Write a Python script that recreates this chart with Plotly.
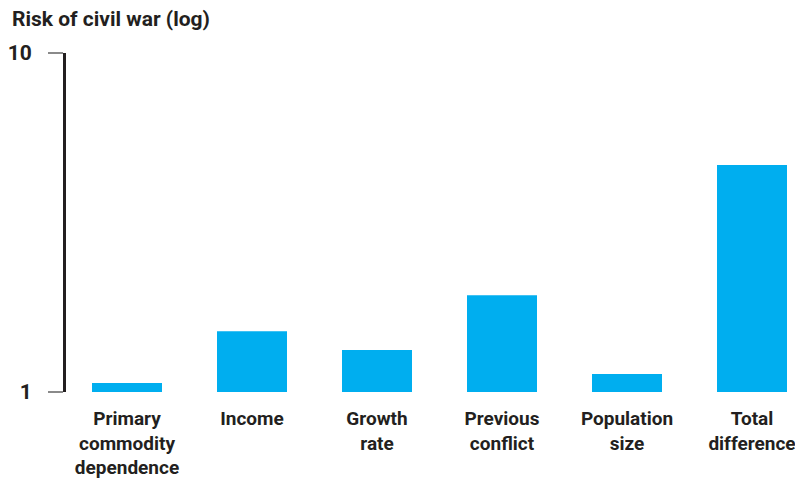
import plotly.graph_objects as go

categories = ["Primary<br>commodity<br>dependence", "Income", "Growth<br>rate",
              "Previous<br>conflict", "Population<br>size", "Total<br>difference"]
values = [1.063, 1.51, 1.33, 1.93, 1.13, 4.67]
y_tickvals = [1, 10]
y_ticktext = ["1", "10"]

FONT = "Roboto, Lato, sans-serif"
DARK = "#231f20"

fig = go.Figure(go.Bar(
    x=list(range(len(categories))), y=values,
    marker=dict(color="#00aeef", line=dict(width=0)),
))

# page body has an 8px margin, so the figure is drawn 8px smaller and margins offset
fig.update_layout(
    width=795, height=473,
    margin=dict(l=58, r=0, t=45, b=89),
    paper_bgcolor="white", plot_bgcolor="white",
    bargap=0.44,
    showlegend=False,
    font=dict(family=FONT, color=DARK, size=20, weight="bold"),
    annotations=[dict(
        text="Risk of civil war (log)", xref="paper", yref="paper",
        x=-56/737, y=1, xanchor="left", yanchor="bottom", yshift=20,
        showarrow=False, font=dict(size=21, family=FONT, color=DARK, weight="bold"),
    )],
)

fig.update_xaxes(
    range=[-0.488, 5.408],
    tickvals=list(range(len(categories))),
    ticktext=categories,
    showline=False, showgrid=False, zeroline=False, ticks="",
    tickfont=dict(size=19, family=FONT, color=DARK, weight="bold"),
    ticklabelstandoff=13,
    automargin=False,
)
fig.update_yaxes(
    type="log", range=[0, 1],
    tickvals=y_tickvals, ticktext=y_ticktext,
    showline=True, linecolor=DARK, linewidth=3,
    ticks="outside", ticklen=15, tickwidth=2, tickcolor="#8a8a8a",
    showgrid=False, zeroline=False,
    tickfont=dict(size=21, family=FONT, color=DARK, weight="bold"),
    ticklabelstandoff=12,
    automargin=False,
)

fig.write_html("out.html")
